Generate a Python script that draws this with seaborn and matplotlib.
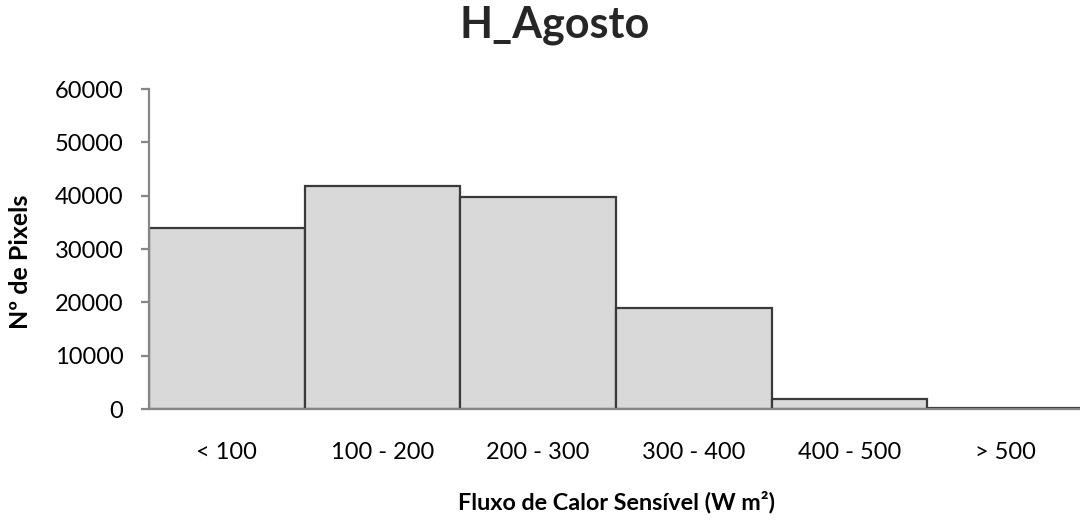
import matplotlib
matplotlib.use("Agg")
import matplotlib.pyplot as plt
import seaborn as sns
import pandas as pd

# Histogram classes of sensible heat flux and pixel counts
classes = ["< 100", "100 - 200", "200 - 300", "300 - 400", "400 - 500", "> 500"]
pixels = [34000, 41800, 39700, 19000, 1800, 200]
y_ticks = [0, 10000, 20000, 30000, 40000, 50000, 60000]

sns.set_theme(style="white")
plt.rcParams["font.family"] = ["Lato", "DejaVu Sans"]

df = pd.DataFrame({"classe": classes, "pixels": pixels})

fig = plt.figure(figsize=(10.8, 5.22), dpi=100)
ax = fig.add_axes([149 / 1080, 113 / 522, 934 / 1080, 320 / 522])

sns.barplot(data=df, x="classe", y="pixels", ax=ax, width=1.0,
            color="#d9d9d9", edgecolor="#3a3a3a", linewidth=1.6,
            saturation=1)

ax.set_xlim(-0.5, 5.5)
ax.set_ylim(0, 60000)
ax.set_yticks(y_ticks)
ax.set_yticklabels([str(v) for v in y_ticks])

for side in ["top", "right"]:
    ax.spines[side].set_visible(False)
for side in ["left", "bottom"]:
    ax.spines[side].set_color("#868686")
    ax.spines[side].set_linewidth(1.6)

ax.tick_params(axis="y", left=True, length=5.5, width=1.6, color="#868686",
               labelsize=17, pad=13, labelcolor="black")
ax.tick_params(axis="x", bottom=False, labelsize=17, pad=18, labelcolor="black")

ax.set_xlabel("Fluxo de Calor Sensível (W m²)", fontsize=16.8, fontweight="bold",
              labelpad=20, color="black")
ax.set_ylabel("Nº de Pixels", fontsize=18, fontweight="bold", color="black")
ax.yaxis.set_label_coords(-0.125, 0.46)

fig.suptitle("H_Agosto", fontsize=31, fontweight="bold", y=0.99, x=0.514)

fig.savefig("out.png", dpi=100)
